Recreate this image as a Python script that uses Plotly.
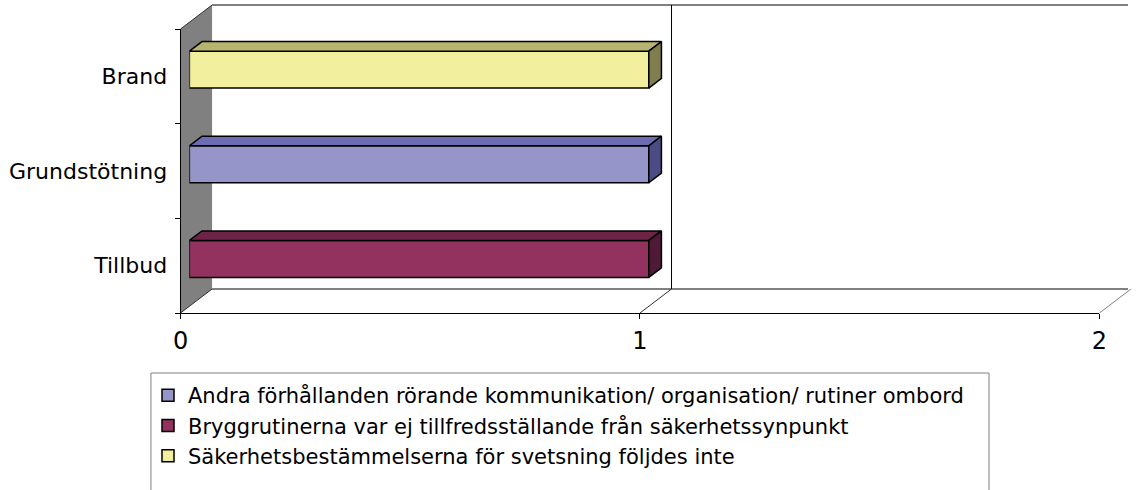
import plotly.graph_objects as go

# data (categories bottom to top, one series per legend entry)
categories = ["Tillbud", "Grundstötning", "Brand"]
series_names = [
    "Andra förhållanden rörande kommunikation/ organisation/ rutiner ombord",
    "Bryggrutinerna var ej tillfredsställande från säkerhetssynpunkt",
    "Säkerhetsbestämmelserna för svetsning följdes inte",
]
andra_vals = [None, 1, None]
brygg_vals = [1, None, None]
saker_vals = [None, None, 1]
x_ticks = [0, 1, 2]

# colours: front face, top face, side face
front_cols = ["#9595C9", "#93325F", "#F2F09F"]
top_cols = ["#6C6CB2", "#6D2447", "#B6B46E"]
side_cols = ["#4C4C84", "#4E1A35", "#807E4E"]

W, H = 1136, 490
FONT = "DejaVu Sans, Liberation Sans, Arial, sans-serif"

# front plane of the 3d box in pixels, and the depth of the floor
X0, X1, YT, YB = 175, 1107, 29, 313
DX, DY = 32, 24
F0, F1 = 0.28, 0.68   # bar front / back position in the depth
BAR_W = 0.39
XMAX = x_ticks[-1]
NCAT = len(categories)

# legend frame
LX0, LX1, LY0 = 145, 995, 373


def px(x):
    return x / W


def py(y):
    return 1 - y / H


def xpix(v):
    return X0 + v * (X1 - X0) / XMAX


fig = go.Figure()

# bars, on an axis pair shifted back into the depth
all_vals = [andra_vals, brygg_vals, saker_vals]
for name, vals, col in zip(series_names, all_vals, front_cols):
    fig.add_trace(go.Bar(
        x=vals, y=list(range(NCAT)), orientation="h", name=name,
        width=BAR_W, marker=dict(color=col, line=dict(color="black", width=1.5)),
        xaxis="x2", yaxis="y2", hoverinfo="skip",
    ))

# top and side faces of the bars
ddx = (F1 - F0) * DX / ((X1 - X0) / XMAX)
ddy = (F1 - F0) * DY / ((YB - YT) / NCAT)
for vals, tc, sc in zip(all_vals, top_cols, side_cols):
    for c, v in enumerate(vals):
        if v is None:
            continue
        t, b = c + BAR_W / 2, c - BAR_W / 2
        fig.add_trace(go.Scatter(
            x=[0, v, v + ddx, ddx, 0], y=[t, t, t + ddy, t + ddy, t],
            fill="toself", fillcolor=tc, mode="lines",
            line=dict(color="black", width=1.5), showlegend=False,
            xaxis="x2", yaxis="y2", hoverinfo="skip",
        ))
        fig.add_trace(go.Scatter(
            x=[v, v + ddx, v + ddx, v, v], y=[b, b + ddy, t + ddy, t, b],
            fill="toself", fillcolor=sc, mode="lines",
            line=dict(color="black", width=1.5), showlegend=False,
            xaxis="x2", yaxis="y2", hoverinfo="skip",
        ))

# empty trace so the front axes get drawn
fig.add_trace(go.Scatter(x=[None], y=[None], showlegend=False, hoverinfo="skip"))

# walls and floor
shapes = []
# back wall
shapes.append(dict(type="rect", xref="paper", yref="paper",
                   x0=px(X0 + DX), x1=1, y0=py(YB - DY), y1=py(YT - DY),
                   fillcolor="white", line=dict(width=0), layer="below"))
# left wall
shapes.append(dict(type="path", xref="paper", yref="paper",
                   path=f"M{px(X0)},{py(YT)} L{px(X0 + DX)},{py(YT - DY)} "
                        f"L{px(X0 + DX)},{py(YB - DY)} L{px(X0)},{py(YB)} Z",
                   fillcolor="#808080", line=dict(width=0), layer="below"))
# top edge of back wall
shapes.append(dict(type="line", xref="paper", yref="paper",
                   x0=px(X0 + DX), x1=1, y0=py(YT - DY), y1=py(YT - DY),
                   line=dict(color="#808080", width=2), layer="below"))
# back edge of floor
shapes.append(dict(type="line", xref="paper", yref="paper",
                   x0=px(X0 + DX), x1=1, y0=py(YB - DY), y1=py(YB - DY),
                   line=dict(color="#808080", width=2), layer="below"))
# top diagonal of left wall
shapes.append(dict(type="line", xref="paper", yref="paper",
                   x0=px(X0), x1=px(X0 + DX), y0=py(YT), y1=py(YT - DY),
                   line=dict(color="#303030", width=1), layer="below"))
# gridlines on back wall and diagonals on floor
for v in x_ticks:
    xf = xpix(v)
    if v > 0 and xf + DX < W:
        shapes.append(dict(type="line", xref="paper", yref="paper",
                           x0=px(xf + DX), x1=px(xf + DX), y0=py(YB - DY), y1=py(YT - DY),
                           line=dict(color="black", width=1), layer="below"))
    shapes.append(dict(type="line", xref="paper", yref="paper",
                       x0=px(xf), x1=px(xf + DX), y0=py(YB), y1=py(YB - DY),
                       line=dict(color="#303030" if v < XMAX else "#808080", width=1),
                       layer="below"))
# legend frame (runs off the bottom like in the original)
shapes.append(dict(type="rect", xref="paper", yref="paper",
                   x0=px(LX0), x1=px(LX1), y0=py(H + 5), y1=py(LY0),
                   fillcolor="rgba(0,0,0,0)", line=dict(color="#808080", width=1)))

fig.update_layout(
    width=W, height=H,
    margin=dict(l=0, r=0, t=0, b=0),
    paper_bgcolor="white", plot_bgcolor="rgba(0,0,0,0)",
    font=dict(family=FONT, size=22, color="black"),
    barmode="overlay",
    shapes=shapes,
    xaxis=dict(domain=[px(X0), px(X1)], range=[0, XMAX], tickvals=x_ticks,
               showgrid=False, zeroline=False, showline=True, linecolor="black",
               linewidth=1, ticks="outside", ticklen=5, tickcolor="black",
               tickfont=dict(size=24), ticklabelstandoff=1, anchor="y"),
    yaxis=dict(domain=[py(YB), py(YT)], range=[-0.5, NCAT - 0.5],
               tickvals=list(range(NCAT)), ticktext=categories, ticks="",
               showgrid=False, zeroline=False, showline=True, linecolor="black",
               linewidth=1, ticklabelstandoff=8, anchor="x",
               minor=dict(tick0=0.5, dtick=1, ticks="outside", ticklen=5,
                          tickcolor="black", showgrid=False)),
    xaxis2=dict(domain=[px(X0 + F0 * DX), px(X1 + F0 * DX)], range=[0, XMAX],
                visible=False, anchor="y2"),
    yaxis2=dict(domain=[py(YB - F0 * DY), py(YT - F0 * DY)], range=[-0.5, NCAT - 0.5],
                visible=False, anchor="x2"),
    legend=dict(x=px(LX0 - 3), y=py(LY0 + 2), xanchor="left", yanchor="top",
                borderwidth=0, bgcolor="rgba(0,0,0,0)",
                font=dict(family=FONT, size=21), traceorder="normal",
                itemwidth=30, tracegroupgap=0),
)

# page without margins or scrollbars so the figure sits at the window corner
page_css = ("document.documentElement.style.margin='0';"
            "document.documentElement.style.overflow='hidden';"
            "document.body.style.margin='0';"
            "document.body.style.overflow='hidden';")
fig.write_html("out.html", config={"displayModeBar": False}, post_script=page_css)
